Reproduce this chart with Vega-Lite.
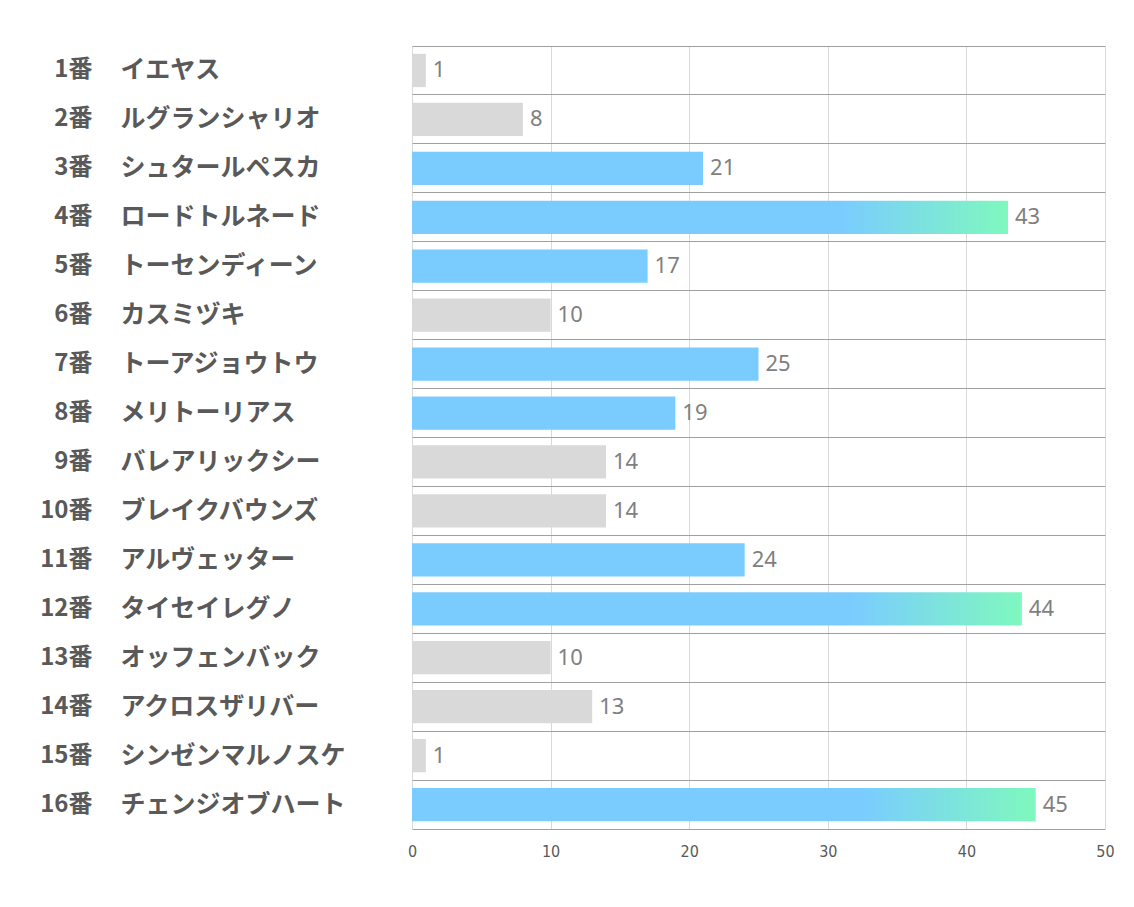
{
  "$schema": "https://vega.github.io/schema/vega-lite/v6.json",
  "width": 693,
  "height": 783,
  "autosize": "none",
  "padding": {"left": 412, "top": 46, "right": 29, "bottom": 78},
  "background": "white",
  "config": {"view": {"stroke": null}},
  "data": {
    "values": [
      {"num": "1番", "name": "イエヤス", "value": 1},
      {"num": "2番", "name": "ルグランシャリオ", "value": 8},
      {"num": "3番", "name": "シュタールペスカ", "value": 21},
      {"num": "4番", "name": "ロードトルネード", "value": 43},
      {"num": "5番", "name": "トーセンディーン", "value": 17},
      {"num": "6番", "name": "カスミヅキ", "value": 10},
      {"num": "7番", "name": "トーアジョウトウ", "value": 25},
      {"num": "8番", "name": "メリトーリアス", "value": 19},
      {"num": "9番", "name": "バレアリックシー", "value": 14},
      {"num": "10番", "name": "ブレイクバウンズ", "value": 14},
      {"num": "11番", "name": "アルヴェッター", "value": 24},
      {"num": "12番", "name": "タイセイレグノ", "value": 44},
      {"num": "13番", "name": "オッフェンバック", "value": 10},
      {"num": "14番", "name": "アクロスザリバー", "value": 13},
      {"num": "15番", "name": "シンゼンマルノスケ", "value": 1},
      {"num": "16番", "name": "チェンジオブハート", "value": 45}
    ]
  },
  "resolve": {"scale": {"y": "independent"}, "axis": {"y": "independent"}},
  "layer": [
    {
      "mark": {"type": "bar", "height": {"band": 0.68}},
      "encoding": {
        "y": {
          "field": "name", "type": "nominal", "sort": null,
          "scale": {"paddingInner": 0, "paddingOuter": 0},
          "axis": {
            "orient": "left", "title": null, "ticks": false, "tickSize": 0, "domain": false,
            "labelAlign": "left", "labelPadding": 292, "labelBaseline": "middle",
            "labelFont": "Noto Sans CJK JP", "labelFontWeight": "bold", "labelFontSize": 25,
            "labelColor": "#595959", "labelLimit": 400,
            "grid": true, "bandPosition": 0, "gridColor": "#a0a0a0", "gridWidth": 1
          }
        },
        "x": {
          "field": "value", "type": "quantitative",
          "scale": {"domain": [0, 50], "nice": false},
          "axis": {
            "title": null, "values": [0, 10, 20, 30, 40, 50], "ticks": false,
            "domain": true, "domainColor": "#a0a0a0", "grid": true, "gridColor": "#d9d9d9",
            "labelFont": "DejaVu Sans Condensed", "labelFontSize": 16, "labelColor": "#595959",
            "labelPadding": 14, "labelFlush": false
          }
        },
        "color": {
          "condition": [
            {"test": "datum.value < 15", "value": "#d9d9d9"},
            {"test": "datum.value >= 40", "value": {
              "gradient": "linear", "x1": 0, "x2": 1, "y1": 0, "y2": 0,
              "stops": [
                {"offset": 0, "color": "#7accff"},
                {"offset": 0.72, "color": "#7accff"},
                {"offset": 1, "color": "#7ff8be"}
              ]
            }}
          ],
          "value": "#7accff"
        }
      }
    },
    {
      "mark": {"type": "text", "align": "left", "baseline": "middle", "dx": 7, "fontSize": 22, "font": "Noto Sans", "color": "#7f7f7f"},
      "encoding": {
        "y": {"field": "name", "type": "nominal", "sort": null, "scale": {"paddingInner": 0, "paddingOuter": 0}, "axis": null},
        "x": {"field": "value", "type": "quantitative"},
        "text": {"field": "value", "type": "quantitative"}
      }
    },
    {
      "mark": {"type": "bar", "opacity": 0},
      "encoding": {
        "y": {
          "field": "num", "type": "nominal", "sort": null,
          "scale": {"paddingInner": 0, "paddingOuter": 0},
          "axis": {
            "orient": "left", "title": null, "ticks": false, "tickSize": 0, "domain": false, "grid": false,
            "labelAlign": "right", "labelPadding": 320, "labelBaseline": "middle",
            "labelFont": "Noto Sans CJK JP", "labelFontWeight": "bold", "labelFontSize": 24,
            "labelColor": "#595959"
          }
        },
        "x": {"field": "value", "type": "quantitative"}
      }
    }
  ]
}
